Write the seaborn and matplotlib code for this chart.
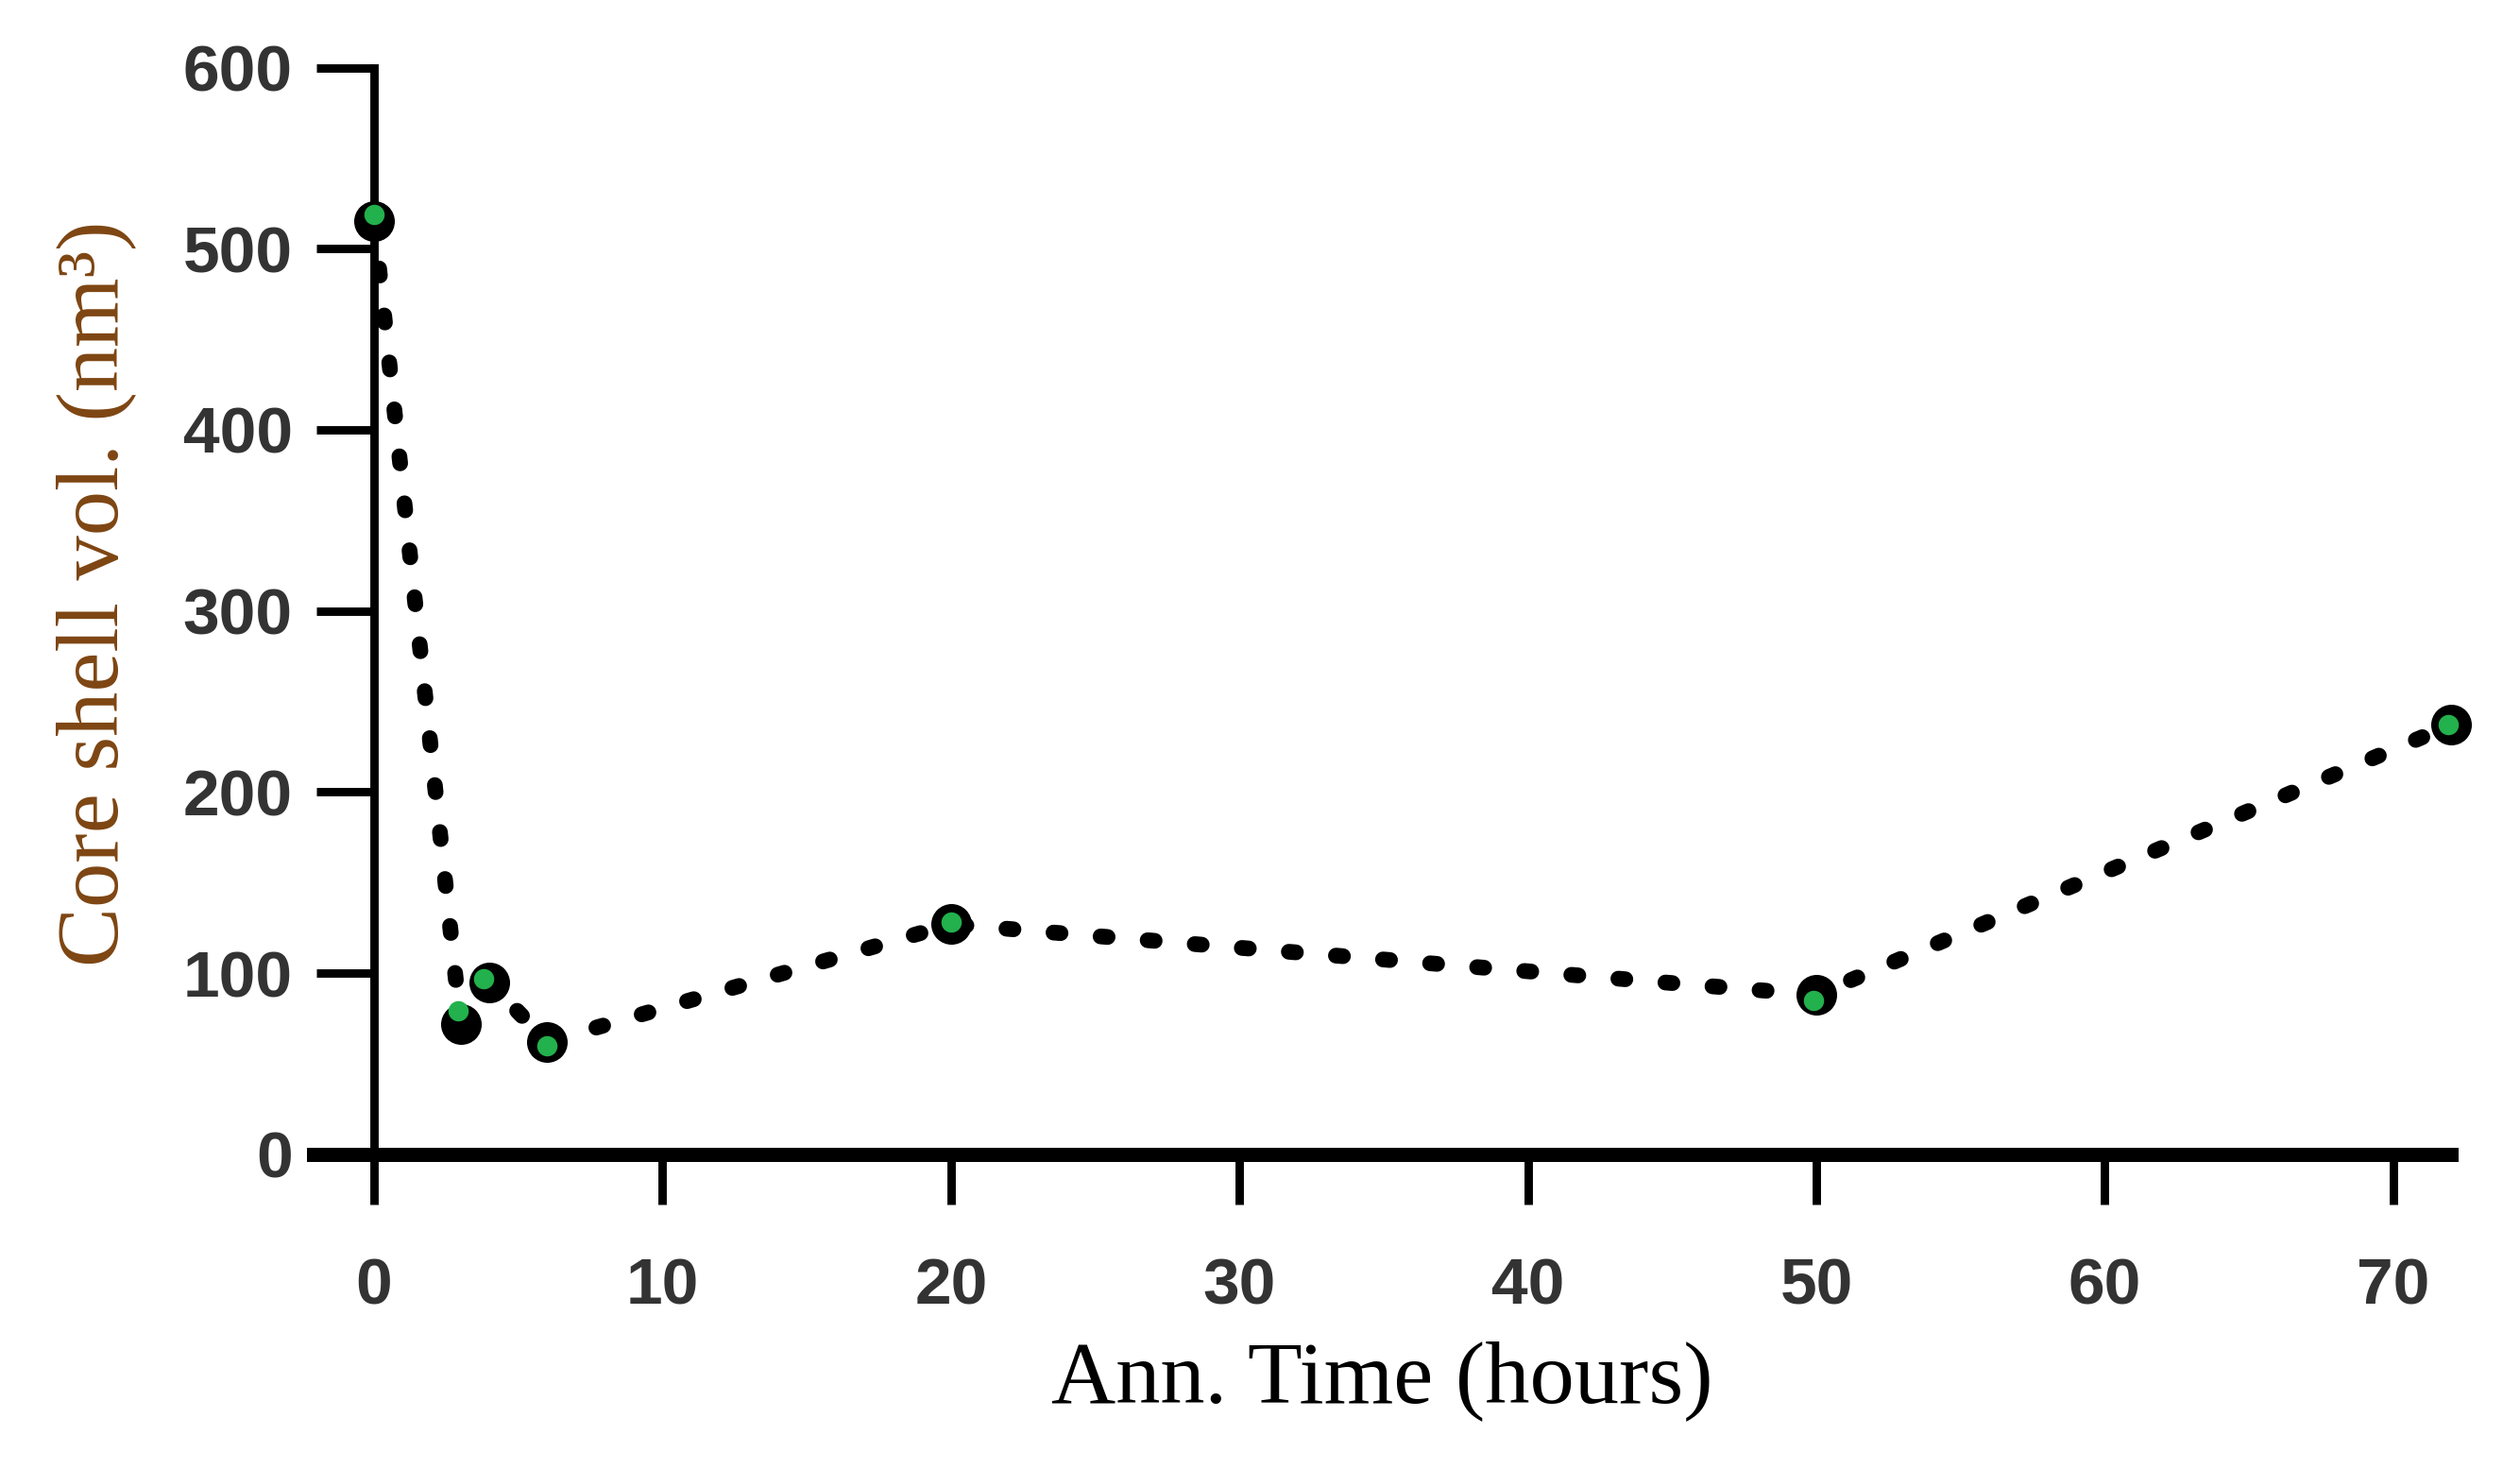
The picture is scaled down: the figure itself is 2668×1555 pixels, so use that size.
import numpy as np
import pandas as pd
import seaborn as sns
from matplotlib import pyplot as plt

# annealing time (hours) and core shell volume (nm^3)
ann_time = [0, 3, 4, 6, 20, 50, 72]
core_vol = [515, 72, 95, 62, 127, 88, 237]
# green centre dots sit slightly off the black ones in the original
green_time = [0, 2.9, 3.8, 6, 20, 49.9, 71.9]
green_vol = [519, 79, 97, 60, 128, 85, 237]

x_ticks = [0, 10, 20, 30, 40, 50, 60, 70]
y_ticks = [0, 100, 200, 300, 400, 500, 600]

df = pd.DataFrame({'time': ann_time, 'vol': core_vol})
df_green = pd.DataFrame({'time': green_time, 'vol': green_vol})

sns.set_style('white')
plt.rcParams['font.family'] = ['Liberation Sans', 'DejaVu Sans']

fig = plt.figure(figsize=(13.34, 7.775), dpi=200)
ax = fig.add_axes([0.1244, 0.2143, 0.8482, 0.7397])

# dotted connecting line
sns.lineplot(data=df, x='time', y='vol', ax=ax, color='black', lw=6,
             linestyle=(0, (0.45, 2.55)), sort=False, zorder=3)
for l in ax.lines:
    l.set_dash_capstyle('round')
    l.set_clip_on(False)

# black markers with green centre
sns.scatterplot(data=df, x='time', y='vol', ax=ax, color='black', s=240,
                edgecolor='black', linewidth=0, zorder=5, clip_on=False)
sns.scatterplot(data=df_green, x='time', y='vol', ax=ax, color='#22b14c',
                s=60, marker='o', linewidth=0, zorder=6, clip_on=False)

ax.set_xlim(-2.1, 72)
ax.set_ylim(0, 600)
ax.set_xticks(x_ticks)
ax.set_yticks(y_ticks)

for s in ['top', 'right']:
    ax.spines[s].set_visible(False)
ax.spines['left'].set_position(('data', 0))
ax.spines['left'].set_linewidth(3.2)
ax.spines['bottom'].set_linewidth(5.4)
ax.spines['left'].set_color('black')
ax.spines['bottom'].set_color('black')
ax.spines['left'].set_zorder(4)

ax.tick_params(axis='x', direction='out', length=19, width=3.2, color='black',
               pad=20, bottom=True)
ax.tick_params(axis='y', direction='out', length=22, width=3.2, color='black',
               pad=9, left=True)
for lab in ax.get_xticklabels() + ax.get_yticklabels():
    lab.set_fontsize(25)
    lab.set_fontweight('bold')
    lab.set_color('#333333')

ax.set_xlabel('Ann. Time (hours)', fontsize=34, family='Liberation Serif',
              color='black', labelpad=9)
ax.set_ylabel('Core shell vol. (nm³)', fontsize=34, family='Liberation Serif',
              color='#7d4512')
ax.yaxis.set_label_coords(-0.083, 0.516)

fig.savefig('out.png', dpi=200)
